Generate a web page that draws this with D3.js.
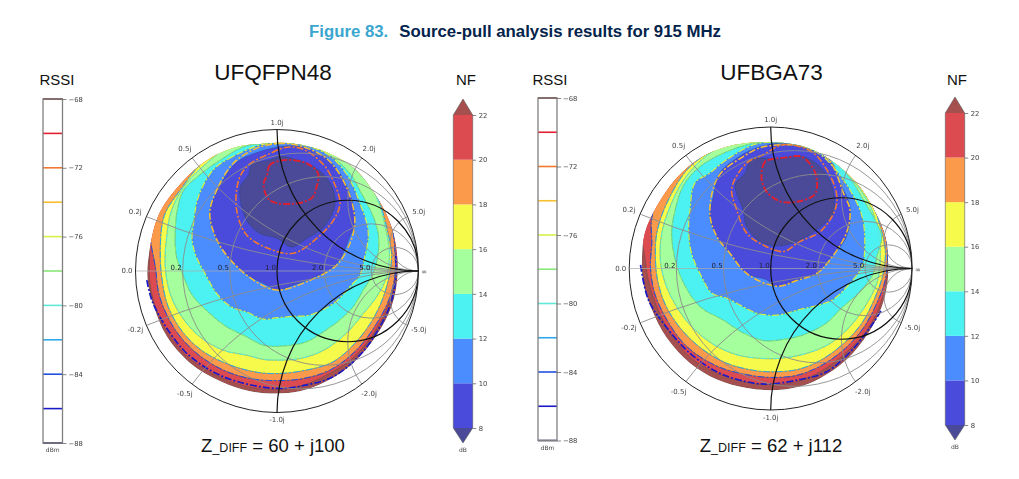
<!DOCTYPE html>
<html>
<head>
<meta charset="utf-8">
<script src="https://cdn.jsdelivr.net/npm/d3@7"></script>
<style>
  html, body { margin: 0; padding: 0; background: #fff; }
  svg { display: block; }
  .soft { filter: blur(0.45px); }
</style>
</head>
<body>
<div id="chart"></div>
<script>
// Reflection coefficient outlines [re, im]

// UFQFPN48 noise figure regions, outermost first
var q_over22 = [[-.10,.90],[.12,.90],[.35,.84],[.54,.73],[.70,.53],[.81,.31],[.85,.10],[.85,-.06],[.81,-.25],[.70,-.46],[.54,-.65],[.35,-.78],[.16,-.85],[0,-.865],[-.19,-.85],[-.40,-.78],[-.615,-.65],[-.78,-.46],[-.87,-.25],[-.915,-.06],[-.90,.15],[-.83,.41],[-.66,.64],[-.50,.78],[-.31,.87]];
var q_nf20 = [[-.10,.91],[.12,.91],[.35,.85],[.54,.74],[.70,.54],[.81,.32],[.85,.10],[.84,-.04],[.80,-.205],[.69,-.43],[.53,-.62],[.35,-.735],[.19,-.805],[0,-.835],[-.19,-.82],[-.40,-.75],[-.615,-.62],[-.77,-.44],[-.86,-.25],[-.90,-.065],[-.90,.125],[-.90,.28],[-.85,.43],[-.68,.66],[-.50,.80],[-.31,.89]];
var q_nf18 = [[-.10,.91],[.12,.91],[.35,.85],[.54,.74],[.70,.54],[.81,.32],[.835,.10],[.835,-.015],[.80,-.18],[.705,-.37],[.56,-.56],[.375,-.70],[.185,-.76],[0,-.775],[-.19,-.76],[-.38,-.70],[-.57,-.58],[-.72,-.415],[-.83,-.18],[-.86,.03],[-.89,.19],[-.90,.30],[-.85,.45],[-.70,.66],[-.50,.81],[-.31,.89]];
var q_nf16 = [[-.10,.91],[.12,.91],[.35,.85],[.54,.74],[.70,.54],[.785,.265],[.81,.10],[.775,-.11],[.69,-.32],[.56,-.50],[.40,-.64],[.21,-.70],[0,-.725],[-.145,-.715],[-.33,-.665],[-.52,-.57],[-.66,-.44],[-.77,-.25],[-.815,-.04],[-.825,.15],[-.81,.34],[-.78,.43],[-.70,.55],[-.555,.74],[-.45,.83],[-.31,.90]];
var q_nf14 = [[-.10,.92],[.12,.92],[.35,.86],[.54,.73],[.70,.53],[.775,.265],[.795,.125],[.775,-.04],[.705,-.18],[.61,-.30],[.49,-.44],[.33,-.56],[.16,-.62],[0,-.63],[-.095,-.625],[-.215,-.595],[-.38,-.56],[-.545,-.465],[-.675,-.32],[-.755,-.16],[-.79,.03],[-.78,.24],[-.745,.43],[-.64,.62],[-.44,.81],[-.31,.90]];
var q_nf12 = [[-.215,.885],[-.40,.785],[-.545,.68],[-.66,.57],[-.705,.43],[-.72,.24],[-.71,.10],[-.66,-.04],[-.60,-.17],[-.475,-.30],[-.355,-.395],[-.215,-.465],[-.095,-.525],[.045,-.53],[.21,-.50],[.35,-.415],[.445,-.345],[.54,-.25],[.61,-.135],[.68,-.015],[.715,.125],[.715,.265],[.68,.385],[.585,.57],[.515,.69],[.35,.83],[.14,.90],[-.05,.90]];
var q_nf10 = [[-.10,.895],[-.31,.81],[-.45,.715],[-.555,.525],[-.59,.335],[-.60,.22],[-.57,.10],[-.51,-.015],[-.425,-.16],[-.33,-.25],[-.215,-.29],[-.095,-.34],[0,-.33],[.115,-.32],[.235,-.31],[.40,-.23],[.445,-.19],[.515,-.11],[.585,-.03],[.62,.10],[.645,.24],[.635,.335],[.585,.48],[.54,.595],[.47,.715],[.35,.83],[.14,.90],[0,.90]];
var q_nf8 = [[0,.875],[-.12,.845],[-.285,.77],[-.40,.61],[-.475,.41],[-.425,.22],[-.33,.08],[-.19,-.04],[-.07,-.10],[0,-.135],[.115,-.10],[.255,-.05],[.40,.03],[.455,.10],[.515,.24],[.55,.335],[.53,.50],[.445,.69],[.35,.795],[.21,.87],[.09,.885]];
var q_under8 = [[.02,.81],[-.05,.785],[-.18,.75],[-.20,.68],[-.26,.595],[-.25,.455],[-.20,.335],[-.12,.265],[0,.23],[.105,.17],[.21,.23],[.33,.31],[.40,.43],[.41,.525],[.36,.645],[.255,.74],[.14,.785]];

// UFQFPN48 RSSI contours that do not follow a noise figure edge
var q_rssi70 = [[.07,.785],[-.05,.75],[-.07,.68],[-.095,.61],[-.05,.50],[.115,.475],[.245,.515],[.28,.595],[.29,.69],[.21,.76]];
var q_rssi72 = [[-.27,.645],[-.20,.75],[-.05,.83],[.07,.875],[.185,.86],[.33,.75],[.40,.63],[.445,.48],[.40,.36],[.28,.23],[.115,.125],[-.05,.155],[-.215,.255],[-.285,.43]];
var q_rssi74 = [[-.475,.41],[-.415,.595],[-.31,.76],[-.19,.845],[-.07,.89],[.115,.895],[.35,.795],[.49,.595],[.55,.36],[.515,.195],[.42,.04],[.235,-.065],[0,-.135],[-.165,-.065],[-.33,.08],[-.425,.22]];
var q_rssi86 = [[-.92,-.065],[-.885,-.205],[-.80,-.37],[-.66,-.56],[-.475,-.70],[-.285,-.78],[0,-.83],[.21,-.805],[.40,-.745],[.585,-.595],[.715,-.415],[.80,-.24],[.835,-.085],[.84,.125]];

// UFBGA73 noise figure regions, outermost first
var b_over22 = [[-.12,.89],[.065,.89],[.255,.855],[.44,.755],[.61,.60],[.725,.425],[.81,.225],[.83,.06],[.825,-.105],[.785,-.27],[.69,-.455],[.535,-.645],[.35,-.775],[.185,-.84],[.005,-.86],[-.17,-.845],[-.38,-.785],[-.57,-.67],[-.735,-.49],[-.84,-.29],[-.90,-.105],[-.91,.06],[-.89,.25],[-.805,.44],[-.665,.64],[-.50,.78],[-.31,.86]];
var b_nf20 = [[-.12,.90],[.065,.90],[.255,.865],[.44,.765],[.61,.61],[.725,.435],[.81,.235],[.825,.06],[.82,-.08],[.76,-.29],[.665,-.455],[.515,-.61],[.35,-.73],[.185,-.80],[.005,-.82],[-.17,-.805],[-.38,-.74],[-.56,-.635],[-.71,-.455],[-.805,-.27],[-.865,-.08],[-.89,.085],[-.91,.28],[-.83,.46],[-.68,.66],[-.50,.80],[-.31,.88]];
var b_nf18 = [[-.12,.90],[.065,.90],[.255,.865],[.44,.765],[.61,.61],[.725,.435],[.81,.235],[.825,.11],[.81,-.08],[.75,-.245],[.655,-.42],[.515,-.575],[.35,-.69],[.185,-.755],[.005,-.77],[-.17,-.75],[-.38,-.69],[-.595,-.55],[-.735,-.36],[-.82,-.175],[-.85,.015],[-.84,.18],[-.84,.36],[-.74,.60],[-.52,.82],[-.31,.89]];
var b_nf16 = [[-.12,.90],[.065,.90],[.255,.865],[.44,.765],[.61,.61],[.725,.435],[.775,.295],[.81,.13],[.795,-.035],[.735,-.21],[.645,-.385],[.515,-.53],[.35,-.65],[.185,-.715],[.005,-.73],[-.12,-.72],[-.31,-.67],[-.49,-.565],[-.64,-.42],[-.745,-.255],[-.80,-.08],[-.815,.085],[-.805,.25],[-.735,.46],[-.57,.72],[-.31,.88]];
var b_nf14 = [[-.12,.90],[.065,.90],[.255,.865],[.44,.745],[.61,.59],[.715,.415],[.76,.25],[.775,.085],[.75,-.105],[.665,-.27],[.56,-.41],[.42,-.53],[.255,-.60],[.065,-.635],[-.075,-.635],[-.24,-.61],[-.415,-.53],[-.56,-.41],[-.665,-.27],[-.745,-.105],[-.78,.06],[-.77,.25],[-.71,.44],[-.615,.625],[-.475,.78],[-.31,.88]];
var b_nf12 = [[-.12,.885],[-.335,.815],[-.50,.72],[-.615,.59],[-.675,.415],[-.70,.25],[-.675,.06],[-.615,-.105],[-.50,-.27],[-.335,-.365],[-.195,-.455],[-.05,-.51],[.065,-.505],[.23,-.47],[.395,-.385],[.50,-.28],[.63,-.165],[.725,-.035],[.75,.085],[.785,.225],[.75,.32],[.655,.485],[.535,.675],[.395,.805],[.205,.875],[.02,.89]];
var b_nf10 = [[-.10,.88],[-.31,.77],[-.43,.675],[-.535,.605],[-.57,.415],[-.58,.275],[-.56,.11],[-.49,-.055],[-.415,-.175],[-.31,-.21],[-.195,-.27],[-.10,-.315],[.04,-.33],[.205,-.29],[.35,-.255],[.44,-.22],[.56,-.105],[.645,.015],[.665,.18],[.645,.37],[.56,.555],[.44,.72],[.35,.805],[.16,.885]];
var b_nf8 = [[.065,.885],[-.12,.845],[-.24,.78],[-.36,.675],[-.405,.51],[-.43,.365],[-.38,.225],[-.29,.11],[-.17,-.035],[-.03,-.08],[.04,-.125],[.185,-.085],[.325,-.035],[.41,.06],[.535,.225],[.56,.44],[.49,.605],[.42,.77],[.28,.84]];
var b_under8 = [[.04,.775],[-.135,.77],[-.18,.675],[-.25,.59],[-.195,.415],[-.17,.295],[-.075,.19],[.04,.16],[.185,.19],[.37,.31],[.44,.39],[.44,.555],[.37,.70],[.23,.79]];

// UFBGA73 RSSI contours that do not follow a noise figure edge
var b_rssi70 = [[.02,.775],[-.04,.755],[-.065,.64],[-.03,.545],[.065,.475],[.205,.475],[.315,.53],[.315,.675],[.22,.79],[.11,.785]];
var b_rssi72 = [[-.275,.57],[-.17,.745],[-.05,.805],[.09,.875],[.29,.825],[.395,.70],[.465,.53],[.455,.415],[.35,.26],[.205,.19],[.09,.12],[-.05,.165],[-.17,.25],[-.24,.415]];
var b_rssi74 = [[-.43,.39],[-.37,.65],[-.195,.79],[-.05,.86],[.255,.86],[.41,.77],[.515,.53],[.56,.415],[.535,.25],[.41,.05],[.325,-.035],[.185,-.085],[.04,-.125],[-.17,-.035],[-.29,.11],[-.38,.225]];
var b_rssi86 = [[-.92,.025],[-.865,-.22],[-.76,-.385],[-.57,-.60],[-.36,-.74],[-.12,-.81],[.005,-.815],[.205,-.785],[.395,-.73],[.585,-.565],[.725,-.385],[.785,-.29]];

// Grid and colour bar values
var gridValues = [0.2, 0.5, 1, 2, 5];
var nfLevels = [8, 10, 12, 14, 16, 18, 20, 22];
var rssiLevels = [-88, -86, -84, -82, -80, -78, -76, -74, -72, -70, -68];
var rssiTicks = [-88, -84, -80, -76, -72, -68];

// Colours
var nfColors = ["#4a4adb", "#4b8cff", "#4cf2f2", "#a4ff9c", "#f5fa4b", "#fb9a4b", "#dc4b4f"];
var nfOverColor = "#a5504f";
var nfUnderColor = "#4a4a98";
var rssiColors = ["#20205a", "#1a1ac8", "#2050e0", "#30a8e8", "#60e8d8", "#88e878", "#d8f048", "#f8c030", "#f07830", "#e02030", "#702020"];

var svg = d3.select("#chart").append("svg")
    .attr("width", 1019)
    .attr("height", 479);

var fontSans = "'Liberation Sans', Arial, sans-serif";
var fontPlot = "'DejaVu Sans', sans-serif";

// Page title
var title = svg.append("text")
    .attr("x", 515)
    .attr("y", 37)
    .attr("text-anchor", "middle")
    .style("font-family", fontSans)
    .style("font-weight", "bold")
    .style("font-size", "16.8px");
title.append("tspan").attr("fill", "#3aa6cf").text("Figure 83.");
title.append("tspan").attr("fill", "#03234b").attr("dx", 11).text("Source-pull analysis results for 915 MHz");

function heading(x, y, size, label) {
  svg.append("text")
      .attr("x", x)
      .attr("y", y)
      .attr("text-anchor", "middle")
      .style("font-family", fontSans)
      .style("font-size", size + "px")
      .attr("fill", "#111")
      .text(label);
}

heading(273, 79.5, 22.5, "UFQFPN48");
heading(771.5, 79.5, 22.5, "UFBGA73");
heading(57, 85, 15, "RSSI");
heading(466, 85, 15, "NF");
heading(550, 85, 15, "RSSI");
heading(957, 85, 15, "NF");

function impedance(x, label) {
  var t = svg.append("text")
      .attr("x", x)
      .attr("y", 452)
      .attr("text-anchor", "middle")
      .attr("fill", "#111")
      .style("font-family", fontSans)
      .style("font-size", "18.5px");
  t.append("tspan").text("Z");
  t.append("tspan").style("font-size", "12.5px").text("_DIFF");
  t.append("tspan").text(" = " + label);
}

impedance(273, "60 + j100");
impedance(771, "62 + j112");

// RSSI colour bar: only the contour levels, no fill
function drawRssiBar(x0, x1, y0, y1) {
  var y = d3.scaleLinear().domain([-88, -68]).range([y1, y0]);
  var g = svg.append("g").attr("class", "soft");

  g.selectAll(".level")
      .data(rssiLevels)
    .enter().append("line")
      .attr("x1", x0).attr("x2", x1)
      .attr("y1", function(d) { return y(d); })
      .attr("y2", function(d) { return y(d); })
      .attr("stroke", function(d, i) { return rssiColors[i]; })
      .attr("stroke-width", 1.6);

  g.append("rect")
      .attr("x", x0).attr("y", y0)
      .attr("width", x1 - x0).attr("height", y1 - y0)
      .attr("fill", "none")
      .attr("stroke", "#808080")
      .attr("stroke-width", 1.3);

  var axis = d3.axisRight(y).tickValues(rssiTicks).tickSize(4).tickPadding(2)
      .tickFormat(function(d) { return "\u2212" + Math.abs(d); });
  var a = g.append("g").attr("transform", "translate(" + x1 + ",0)").call(axis);
  a.select(".domain").remove();
  a.selectAll("line").attr("stroke", "#555").attr("stroke-width", 0.7);
  a.selectAll("text").attr("fill", "#444").style("font-family", fontPlot).style("font-size", "6.8px");

  g.append("text")
      .attr("x", (x0 + x1) / 2).attr("y", y1 + 9)
      .attr("text-anchor", "middle")
      .attr("fill", "#444")
      .style("font-family", fontPlot).style("font-size", "6px")
      .text("dBm");
}

// NF colour bar with the two end triangles
function drawNfBar(x0, x1, y0, y1, tipTop, tipBottom) {
  var y = d3.scaleLinear().domain([8, 22]).range([y1, y0]);
  var g = svg.append("g").attr("class", "soft");

  g.selectAll(".band")
      .data(nfColors)
    .enter().append("rect")
      .attr("x", x0)
      .attr("y", function(d, i) { return y(nfLevels[i + 1]); })
      .attr("width", x1 - x0)
      .attr("height", function(d, i) { return y(nfLevels[i]) - y(nfLevels[i + 1]); })
      .attr("fill", function(d) { return d; });

  var xm = (x0 + x1) / 2;
  g.append("path")
      .attr("d", d3.line()([[x0, y0], [xm, tipTop], [x1, y0]]) + "Z")
      .attr("fill", nfOverColor);
  g.append("path")
      .attr("d", d3.line()([[x0, y1], [xm, tipBottom], [x1, y1]]) + "Z")
      .attr("fill", nfUnderColor);

  // outline
  g.append("path")
      .attr("d", d3.line()([[x0, y0], [xm, tipTop], [x1, y0], [x1, y1], [xm, tipBottom], [x0, y1]]) + "Z")
      .attr("fill", "none")
      .attr("stroke", "#555")
      .attr("stroke-opacity", 0.7)
      .attr("stroke-width", 0.8);

  var axis = d3.axisRight(y).tickValues(nfLevels).tickSize(3.5).tickPadding(2.5);
  var a = g.append("g").attr("transform", "translate(" + x1 + ",0)").call(axis);
  a.select(".domain").remove();
  a.selectAll("line").attr("stroke", "#555").attr("stroke-width", 0.7);
  a.selectAll("text").attr("fill", "#444").style("font-family", fontPlot).style("font-size", "6.8px");

  g.append("text")
      .attr("x", xm).attr("y", tipBottom + 9)
      .attr("text-anchor", "middle")
      .attr("fill", "#444")
      .style("font-family", fontPlot).style("font-size", "6px")
      .text("dB");
}

drawRssiBar(43, 62.5, 99, 443);
drawRssiBar(538, 557, 98, 440.5);
drawNfBar(453.3, 472.7, 115, 428, 99, 443);
drawNfBar(945.3, 964.7, 113, 425, 97, 440);

// Smith chart with filled noise figure regions and RSSI contours
function drawSmith(id, cx, cy, r, nfRegions, rssiContours, rssiOpen) {
  var x = d3.scaleLinear().domain([-1, 1]).range([cx - r, cx + r]);
  var y = d3.scaleLinear().domain([-1, 1]).range([cy + r, cy - r]);
  var len = function(v) { return x(v) - x(0); };

  var closed = d3.line()
      .x(function(d) { return x(d[0]); })
      .y(function(d) { return y(d[1]); })
      .curve(d3.curveCatmullRomClosed.alpha(0.5));
  var open = d3.line()
      .x(function(d) { return x(d[0]); })
      .y(function(d) { return y(d[1]); })
      .curve(d3.curveCatmullRom.alpha(0.5));

  var g = svg.append("g").attr("class", "soft");
  var defs = g.append("defs");
  defs.append("clipPath").attr("id", "unit" + id)
    .append("circle").attr("cx", x(0)).attr("cy", y(0)).attr("r", len(1));
  defs.append("clipPath").attr("id", "blob" + id)
    .append("path").attr("d", closed(nfRegions[0].points));

  // Regions, outer to inner
  var regions = g.append("g").attr("clip-path", "url(#blob" + id + ")");
  regions.selectAll(".region")
      .data(nfRegions)
    .enter().append("path")
      .attr("d", function(d) { return closed(d.points); })
      .attr("fill", function(d) { return d.color; })
      .attr("stroke", "#1d4a4a")
      .attr("stroke-opacity", 0.5)
      .attr("stroke-width", 0.6);

  // RSSI contours
  regions.selectAll(".rssi")
      .data(rssiContours)
    .enter().append("path")
      .attr("d", function(d) { return closed(d.points); })
      .attr("fill", "none")
      .attr("stroke", function(d) { return d.color; })
      .attr("stroke-width", function(d) { return d.width; })
      .attr("stroke-dasharray", "7 2 2 2");

  g.append("path")
      .attr("d", open(rssiOpen.points))
      .attr("fill", "none")
      .attr("stroke", rssiOpen.color)
      .attr("stroke-width", rssiOpen.width)
      .attr("stroke-dasharray", "7 2 2 2");

  // Grid
  var grid = g.append("g").attr("clip-path", "url(#unit" + id + ")");

  grid.append("line")
      .attr("x1", x(-1)).attr("x2", x(1))
      .attr("y1", y(0)).attr("y2", y(0))
      .attr("stroke", "#aaa").attr("stroke-width", 0.7);

  function lineColor(v) { return v === 1 ? "#111" : "#8c8c8c"; }
  function lineWidth(v) { return v === 1 ? 1.2 : 0.9; }

  // gray lines first so the black ones stay on top
  var order = gridValues.slice().sort(function(a, b) { return (a === 1) - (b === 1); });

  order.forEach(function(v) {
    grid.append("circle")
        .attr("cx", x(v / (1 + v))).attr("cy", y(0))
        .attr("r", len(1 / (1 + v)))
        .attr("fill", "none")
        .attr("stroke", lineColor(v)).attr("stroke-width", lineWidth(v));
    [1, -1].forEach(function(s) {
      grid.append("circle")
          .attr("cx", x(1)).attr("cy", y(s / v))
          .attr("r", len(1 / v))
          .attr("fill", "none")
          .attr("stroke", lineColor(v)).attr("stroke-width", lineWidth(v));
    });
  });

  g.append("circle")
      .attr("cx", x(0)).attr("cy", y(0)).attr("r", len(1))
      .attr("fill", "none")
      .attr("stroke", "#222").attr("stroke-width", 1);

  function label(px, py, txt, color) {
    g.append("text")
        .attr("x", px).attr("y", py)
        .attr("dy", "0.35em")
        .attr("text-anchor", "middle")
        .attr("fill", color)
        .style("font-family", fontPlot)
        .style("font-size", "7px")
        .text(txt);
  }

  // Real axis labels sit just left of each crossing
  gridValues.forEach(function(v) {
    label(x((v - 1) / (v + 1)) - 6.5, y(0) - 3, v.toFixed(1), "#223");
  });
  label(x(-1.06), y(0), "0.0", "#444");
  label(x(1.04), y(0) + 1, "\u221E", "#444");

  // Reactance labels outside the unit circle
  gridValues.forEach(function(v) {
    var re = (v * v - 1) / (v * v + 1);
    var im = 2 * v / (v * v + 1);
    var k = v === 1 ? 1.05 : 1.085;
    label(x(re * k), y(im * k), v.toFixed(1) + "j", "#444");
    label(x(re * k), y(-im * k), "-" + v.toFixed(1) + "j", "#444");
  });
}

function nfRegionList(over, list, under) {
  var out = [{ points: over, color: nfOverColor }];
  list.forEach(function(p, i) { out.push({ points: p, color: nfColors[nfColors.length - 1 - i] }); });
  out.push({ points: under, color: nfUnderColor });
  return out;
}

function rssi(level, points, width) {
  return { points: points, color: rssiColors[rssiLevels.indexOf(level)], width: width };
}

drawSmith("q", 277, 271, 141.5,
  nfRegionList(q_over22, [q_nf20, q_nf18, q_nf16, q_nf14, q_nf12, q_nf10, q_nf8], q_under8),
  [
    rssi(-84, q_nf18, 1),
    rssi(-82, q_nf16, 1),
    rssi(-80, q_nf14, 1),
    rssi(-78, q_nf12, 1),
    rssi(-76, q_nf10, 1.2),
    rssi(-74, q_rssi74, 1.5),
    rssi(-72, q_rssi72, 1.6),
    rssi(-70, q_rssi70, 1.9)
  ],
  rssi(-86, q_rssi86, 1.7));

drawSmith("b", 770.7, 268.5, 141.5,
  nfRegionList(b_over22, [b_nf20, b_nf18, b_nf16, b_nf14, b_nf12, b_nf10, b_nf8], b_under8),
  [
    rssi(-84, b_nf18, 1),
    rssi(-82, b_nf16, 1),
    rssi(-80, b_nf14, 1),
    rssi(-78, b_nf12, 1),
    rssi(-76, b_nf10, 1.2),
    rssi(-74, b_rssi74, 1.5),
    rssi(-72, b_rssi72, 1.6),
    rssi(-70, b_rssi70, 1.9)
  ],
  rssi(-86, b_rssi86, 1.7));
</script>
</body>
</html>
